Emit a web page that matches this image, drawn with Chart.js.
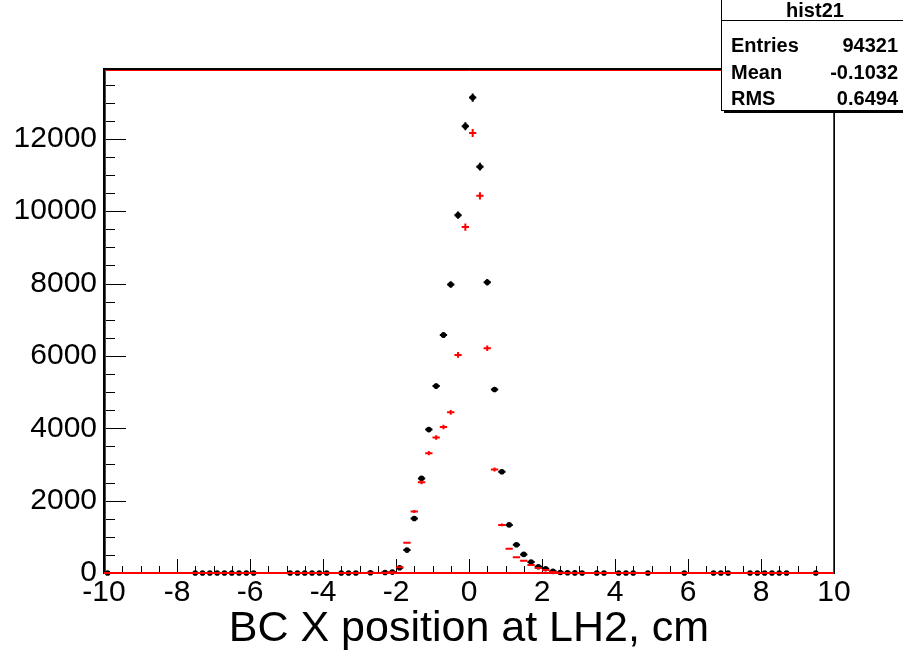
<!DOCTYPE html>
<html><head><meta charset="utf-8">
<script src="https://cdn.jsdelivr.net/npm/chart.js@4.4.0/dist/chart.umd.min.js"></script>
<style>html,body{margin:0;padding:0;background:#fff;overflow:hidden}#wrap{width:903px;height:657px;position:relative}</style>
</head><body><div id="wrap"><canvas id="c" width="903" height="657"></canvas></div>
<script>
// ---- data (bin centres, counts) ----
const blackX = [-9.9,-7.5,-7.3,-7.1,-6.9,-6.7,-6.5,-6.3,-6.1,-5.9,-4.9,-4.7,-4.5,-4.3,-4.1,-3.9,-3.5,-3.3,-3.1,
  -2.7,-2.3,-2.1,-1.9,-1.7,-1.5,-1.3,-1.1,-0.9,-0.7,-0.5,-0.3,-0.1,0.1,0.3,0.5,0.7,0.9,1.1,1.3,1.5,1.7,1.9,2.1,2.3,2.5,2.7,2.9,3.1,
  3.5,3.7,4.1,4.3,4.5,4.9,5.9,6.7,6.9,7.1,7.7,7.9,8.1,8.3,8.5,8.7,9.5];
const blackY = [2,1,2,1,2,1,2,1,2,1,1,2,1,1,2,1,1,2,1,
  5,12,25,146,633,1505,2615,3963,5166,6578,7974,9890,12350,13140,11230,8037,5073,2799,1330,779,514,303,174,118,45,15,6,3,2,
  1,2,1,2,1,1,1,1,2,1,1,2,1,1,1,1,1];
const redX = [-2.7,-2.3,-2.1,-1.9,-1.7,-1.5,-1.3,-1.1,-0.9,-0.7,-0.5,-0.3,-0.1,0.1,0.3,0.5,0.7,0.9,1.1,1.3,1.5,1.7,1.9,2.1,2.3,2.5];
const redY = [4,6,18,157,834,1698,2505,3311,3743,4037,4440,6028,9560,12160,10424,6212,2862,1330,669,432,339,220,135,82,30,10];
const binHalfWidth = 0.1;
const xRange = [-10, 10];
const yRange = [0, 13930];
const xTickValues = [-10, -8, -6, -4, -2, 0, 2, 4, 6, 8, 10];
const yTickValues = [0, 2000, 4000, 6000, 8000, 10000, 12000];
const statsTitle = 'hist21';
const statsLabels = ['Entries', 'Mean', 'RMS'];
const statsValues = ['94321', '-0.1032', '0.6494'];
const xAxisTitle = 'BC X position at LH2, cm';

const FONT = '"Liberation Sans", Arial, Helvetica, sans-serif';
const toPts = (xs, ys) => xs.map((v, i) => ({x: v, y: ys[i]}));

const errorBars = {
  id: 'errorBars',
  afterDatasetDraw(chart, args) {
    const ds = chart.data.datasets[args.index];
    if (!ds.errColor) return;
    const {ctx, scales: {x, y}} = chart;
    ctx.save();
    ctx.strokeStyle = ds.errColor;
    ctx.lineWidth = 2;
    ds.data.forEach(p => {
      const py = y.getPixelForValue(p.y);
      const x0 = x.getPixelForValue(p.x - binHalfWidth), x1 = x.getPixelForValue(p.x + binHalfWidth);
      const px = x.getPixelForValue(p.x);
      const e = Math.sqrt(p.y);
      ctx.beginPath();
      ctx.moveTo(x0, py); ctx.lineTo(x1, py);
      ctx.moveTo(px, y.getPixelForValue(p.y - e)); ctx.lineTo(px, y.getPixelForValue(p.y + e));
      ctx.stroke();
    });
    ctx.restore();
  }
};

const frameTicks = {
  id: 'frameTicks',
  beforeDatasetsDraw(chart) {
    const {ctx, chartArea: a, scales: {x, y}} = chart;
    ctx.save();
    ctx.strokeStyle = '#000';
    ctx.lineWidth = 1;
    ctx.beginPath();
    for (let k = 0; k <= 40; k++) {
      const v = x.min + k * 0.5;
      const px = Math.round(x.getPixelForValue(v)) + 0.5;
      const len = (k % 4 === 0) ? 14 : 7;
      ctx.moveTo(px, a.bottom); ctx.lineTo(px, a.bottom - len);
    }
    for (let k = 0; k * 500 <= y.max; k++) {
      const py = Math.round(y.getPixelForValue(k * 500)) + 0.5;
      const len = (k % 4 === 0) ? 22 : 11;
      ctx.moveTo(a.left, py); ctx.lineTo(a.left + len, py);
    }
    ctx.stroke();
    ctx.lineWidth = 2;
    ctx.strokeRect(a.left, a.top, a.right - a.left, a.bottom - a.top);
    ctx.strokeStyle = '#ff0000';
    ctx.lineWidth = 1;
    ctx.beginPath();
    ctx.moveTo(a.left + 1.5, a.bottom); ctx.lineTo(a.left + 1.5, a.top + 1.5);
    ctx.lineTo(a.right - 0.5, a.top + 1.5); ctx.lineTo(a.right - 0.5, a.bottom);
    ctx.stroke();
    ctx.restore();
  },
  afterDraw(chart) {
    const {ctx} = chart;
    ctx.save();
    // stats box
    ctx.fillStyle = '#000';
    ctx.fillRect(724, 3, 190, 110);
    ctx.fillStyle = '#fff';
    ctx.fillRect(721, 0, 190, 111);
    ctx.strokeStyle = '#000';
    ctx.lineWidth = 1;
    ctx.strokeRect(721.5, -0.5, 190, 111);
    ctx.beginPath(); ctx.moveTo(721, 20.5); ctx.lineTo(903, 20.5); ctx.stroke();
    ctx.fillStyle = '#000';
    ctx.font = 'bold 20px ' + FONT;
    ctx.textBaseline = 'middle';
    ctx.textAlign = 'center';
    ctx.fillText(statsTitle, 815, 11);
    const rowsY = [46.5, 73, 99.5];
    statsLabels.forEach((l, i) => {
      ctx.textAlign = 'left';
      ctx.fillText(l, 731, rowsY[i]);
      ctx.textAlign = 'right';
      ctx.fillText(statsValues[i], 898, rowsY[i]);
    });
    ctx.restore();
  }
};

new Chart(document.getElementById('c'), {
  type: 'scatter',
  data: {
    datasets: [
      {type: 'line', data: [{x: xRange[0], y: 0}, {x: xRange[1], y: 0}], borderColor: '#ff0000', borderWidth: 2,
       pointRadius: 0, order: 0, clip: false},
      {data: toPts(redX, redY), pointRadius: 0, errColor: '#ff0000', order: 1, clip: false},
      {data: toPts(blackX, blackY), pointRadius: 2.8, pointStyle: 'circle', backgroundColor: '#000', borderWidth: 0,
       errColor: '#000', order: 2, clip: false}
    ]
  },
  options: {
    responsive: false,
    animation: false,
    devicePixelRatio: 1,
    layout: {padding: {top: 69, right: 69, left: 0, bottom: 0}},
    plugins: {legend: {display: false}, tooltip: {enabled: false}},
    scales: {
      x: {
        type: 'linear', min: xRange[0], max: xRange[1],
        grid: {display: false, drawTicks: false}, border: {display: false},
        ticks: {autoSkip: false, maxRotation: 0, padding: 2, color: '#000', font: {family: FONT, size: 30},
                callback: v => String(v)},
        afterBuildTicks(s) { s.ticks = xTickValues.map(v => ({value: v})); },
        title: {display: true, text: xAxisTitle, color: '#000', font: {family: FONT, size: 43}, padding: {top: 0, bottom: 2}},
        afterFit(s) { s.height = 84; }
      },
      y: {
        type: 'linear', min: yRange[0], max: yRange[1],
        grid: {display: false, drawTicks: false}, border: {display: false},
        ticks: {autoSkip: false, padding: 7, color: '#000', font: {family: FONT, size: 30},
                callback: v => String(v)},
        afterBuildTicks(s) { s.ticks = yTickValues.map(v => ({value: v})); },
        afterFit(s) { s.width = 104; }
      }
    }
  },
  plugins: [frameTicks, errorBars]
});
</script></body></html>
